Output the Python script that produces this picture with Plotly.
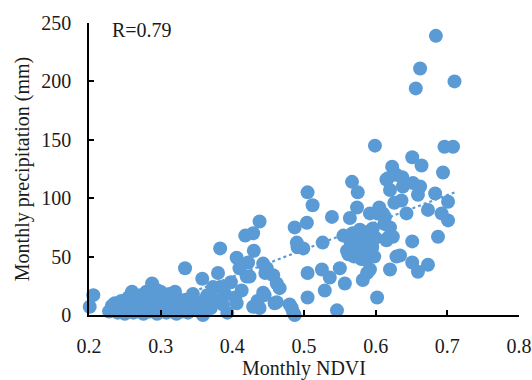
import plotly.graph_objects as go

ndvi = [
    0.201, 0.206,
    0.228, 0.232, 0.236, 0.240, 0.242, 0.245, 0.248, 0.250, 0.252, 0.255, 0.257, 0.259, 0.260, 0.262,
    0.264, 0.266, 0.268, 0.270, 0.272, 0.274, 0.276, 0.278, 0.280, 0.281, 0.283, 0.285, 0.287, 0.288,
    0.290, 0.292, 0.293, 0.295, 0.296, 0.298, 0.300, 0.302, 0.304, 0.306, 0.308, 0.310, 0.312, 0.314,
    0.316, 0.318, 0.320, 0.322, 0.324, 0.326, 0.328, 0.330, 0.333, 0.335, 0.338, 0.340, 0.334,
    0.345, 0.350, 0.355, 0.358, 0.359, 0.362, 0.365, 0.370, 0.373, 0.376, 0.380, 0.383, 0.383, 0.387,
    0.390, 0.393, 0.398, 0.404, 0.406, 0.406, 0.410, 0.413, 0.418, 0.420, 0.422, 0.424, 0.429, 0.429,
    0.430, 0.435, 0.438, 0.438, 0.443, 0.443, 0.445, 0.446, 0.448, 0.457, 0.459, 0.462, 0.462, 0.466,
    0.480, 0.483, 0.485, 0.487,
    0.487, 0.490, 0.491, 0.499, 0.504, 0.505, 0.512, 0.505, 0.505, 0.525, 0.526, 0.529, 0.536, 0.539,
    0.546, 0.550, 0.557, 0.564, 0.567, 0.574, 0.575,
    0.560, 0.565, 0.568, 0.570, 0.572, 0.575, 0.578, 0.580, 0.582, 0.585, 0.588, 0.590, 0.592, 0.595,
    0.598, 0.600, 0.555, 0.562, 0.587, 0.596,
    0.582, 0.588, 0.592, 0.592, 0.595, 0.602, 0.602, 0.610, 0.613, 0.615, 0.615, 0.617, 0.617, 0.620,
    0.620, 0.620, 0.623, 0.624, 0.629, 0.629, 0.634, 0.636, 0.637, 0.638, 0.643, 0.651, 0.651, 0.651,
    0.652, 0.656, 0.659, 0.659, 0.662, 0.662, 0.664, 0.673, 0.673, 0.683, 0.684, 0.687, 0.692, 0.694,
    0.696, 0.701, 0.701, 0.708, 0.710, 0.599, 0.605, 0.612, 0.626,
]
precip = [
    7, 17,
    3, 8, 10, 2, 6, 12, 4, 1, 9, 15, 5, 18, 20, 2,
    11, 7, 14, 3, 17, 9, 1, 12, 20, 6, 15, 3, 10, 27,
    18, 5, 22, 1, 13, 8, 20, 4, 16, 11, 2, 7, 18, 13,
    3, 9, 20, 1, 14, 6, 11, 3, 8, 13, 2, 6, 40,
    18, 10, 3, 31, 0, 13, 17, 6, 24, 13, 36, 57, 24, 9,
    18, 2, 28, 15, 49, 10, 40, 21, 68, 33, 45, 33, 70, 7,
    55, 12, 80, 6, 44, 19, 17, 36, 40, 34, 10, 27, 11, 23,
    9, 6, 2, 0,
    75, 62, 58, 57, 79, 105, 94, 36, 15, 39, 62, 21, 32, 84,
    4, 40, 27, 83, 114, 92, 105,
    55, 62, 70, 50, 58, 65, 73, 48, 60, 68, 55, 63, 72, 58,
    50, 66, 68, 52, 47, 74,
    30, 36, 39, 87, 58, 15, 87, 87, 84, 64, 116, 117, 66, 107,
    75, 39, 127, 67, 120, 50, 51, 98, 118, 110, 87, 135, 63, 45,
    113, 194, 103, 37, 211, 110, 128, 90, 43, 104, 239, 67, 87, 122,
    144, 97, 81, 144, 200, 145, 92, 78, 96,
]

trend_x = [0.26, 0.71]
trend_slope = 233.0
trend_intercept = -60.5
trend_y = [trend_slope * x + trend_intercept for x in trend_x]

blue = "#5B9BD5"
font_family = "Liberation Serif"
txt = "#1a1a1a"

fig = go.Figure()
fig.add_trace(go.Scatter(
    x=trend_x, y=trend_y, mode="lines",
    line=dict(color=blue, width=2.2, dash="dot"),
    showlegend=False, hoverinfo="skip",
))
fig.add_trace(go.Scatter(
    x=ndvi, y=precip, mode="markers",
    marker=dict(color=blue, size=14, line=dict(width=0)),
    cliponaxis=False, showlegend=False,
))

fig.update_layout(
    width=532, height=380,
    margin=dict(l=89, r=13, t=23, b=65),
    paper_bgcolor="white", plot_bgcolor="white",
    font=dict(family=font_family, size=20, color=txt),
    xaxis=dict(
        range=[0.2, 0.8], tickvals=[0.2, 0.3, 0.4, 0.5, 0.6, 0.7, 0.8],
        ticktext=["0.2", "0.3", "0.4", "0.5", "0.6", "0.7", "0.8"],
        showgrid=False, zeroline=False, automargin=False,
        showline=True, linecolor="black", linewidth=1.5,
        ticks="inside", ticklen=5, tickcolor="black", tickwidth=1.5,
        ticklabelstandoff=12,
        title=dict(text="Monthly NDVI", standoff=11, font=dict(size=20)),
        tickfont=dict(size=20),
    ),
    yaxis=dict(
        range=[0, 250], tickvals=[0, 50, 100, 150, 200, 250],
        showgrid=False, zeroline=False, automargin=False,
        showline=True, linecolor="black", linewidth=1.5,
        ticks="inside", ticklen=5, tickcolor="black", tickwidth=1.5,
        ticklabelstandoff=12,
        title=dict(text="Monthly precipitation (mm)", standoff=6, font=dict(size=20)),
        tickfont=dict(size=20),
    ),
    annotations=[dict(
        text="R=0.79", x=0.229, y=244, xref="x", yref="y",
        xanchor="left", yanchor="middle", showarrow=False,
        font=dict(family=font_family, size=20, color=txt),
    )],
)

fig.write_html("out.html")
